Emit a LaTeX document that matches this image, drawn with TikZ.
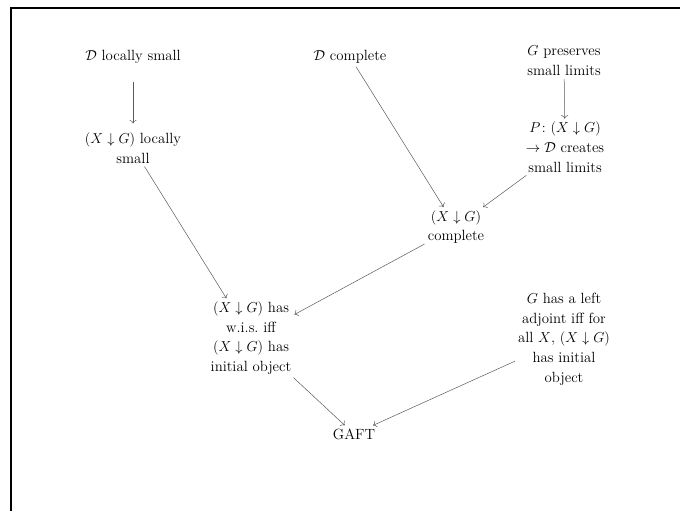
\documentclass[tikz,border=0pt]{standalone}
\usepackage{tikz}
\usepackage{amsmath}
\usetikzlibrary{arrows.meta}
\definecolor{arrowgray}{HTML}{5A5A5A}

\begin{document}
\begin{tikzpicture}[x=1pt, y=-1pt,
  fact/.style={align=center, inner sep=3pt, font=\fontsize{14.8}{19.7}\selectfont},
  impl/.style={draw=arrowgray, line width=0.5pt, -{To[length=3.5pt, width=7pt]}}]
\useasboundingbox (0,0) rectangle (680,511);
\draw[line width=1.4pt] (11,511) -- (11,8) -- (680,8);
% top row
\node[fact, minimum height=50pt] (lsmall) at (133,57) {$\mathcal{D}$ locally small};
\node[fact] (dcompl) at (350,57) {$\mathcal{D}$ complete};
\node[fact] (gpres) at (564,61) {$G$ preserves\\small limits};
% second row
\node[fact] (commaloc) at (133,148) {$(X\downarrow G)$ locally\\small};
\node[fact] (pcreates) at (565,147) {$P\colon (X\downarrow G)$\\$\to\mathcal{D}$ creates\\small limits};
\node[fact] (commacompl) at (456,227) {$(X\downarrow G)$\\complete};
% lower rows
\node[fact] (wis) at (251,338) {$(X\downarrow G)$ has\\w.i.s.\ iff\\$(X\downarrow G)$ has\\initial object};
\node[fact] (ladj) at (564,339) {$G$ has a left\\adjoint iff for\\all $X$, $(X\downarrow G)$\\has initial\\object};
\node[fact] (gaft) at (354,434) {GAFT};
% implications
\draw[impl, shorten >=6pt] (lsmall) -- (commaloc);
\draw[impl] (gpres) -- (pcreates);
\draw[impl] (dcompl) -- (commacompl);
\draw[impl] (pcreates) -- (commacompl);
\draw[impl] (commaloc) -- (wis);
\draw[impl] (commacompl) -- (wis);
\draw[impl] (wis) -- (gaft);
\draw[impl] (ladj) -- (gaft);
\end{tikzpicture}
\end{document}
